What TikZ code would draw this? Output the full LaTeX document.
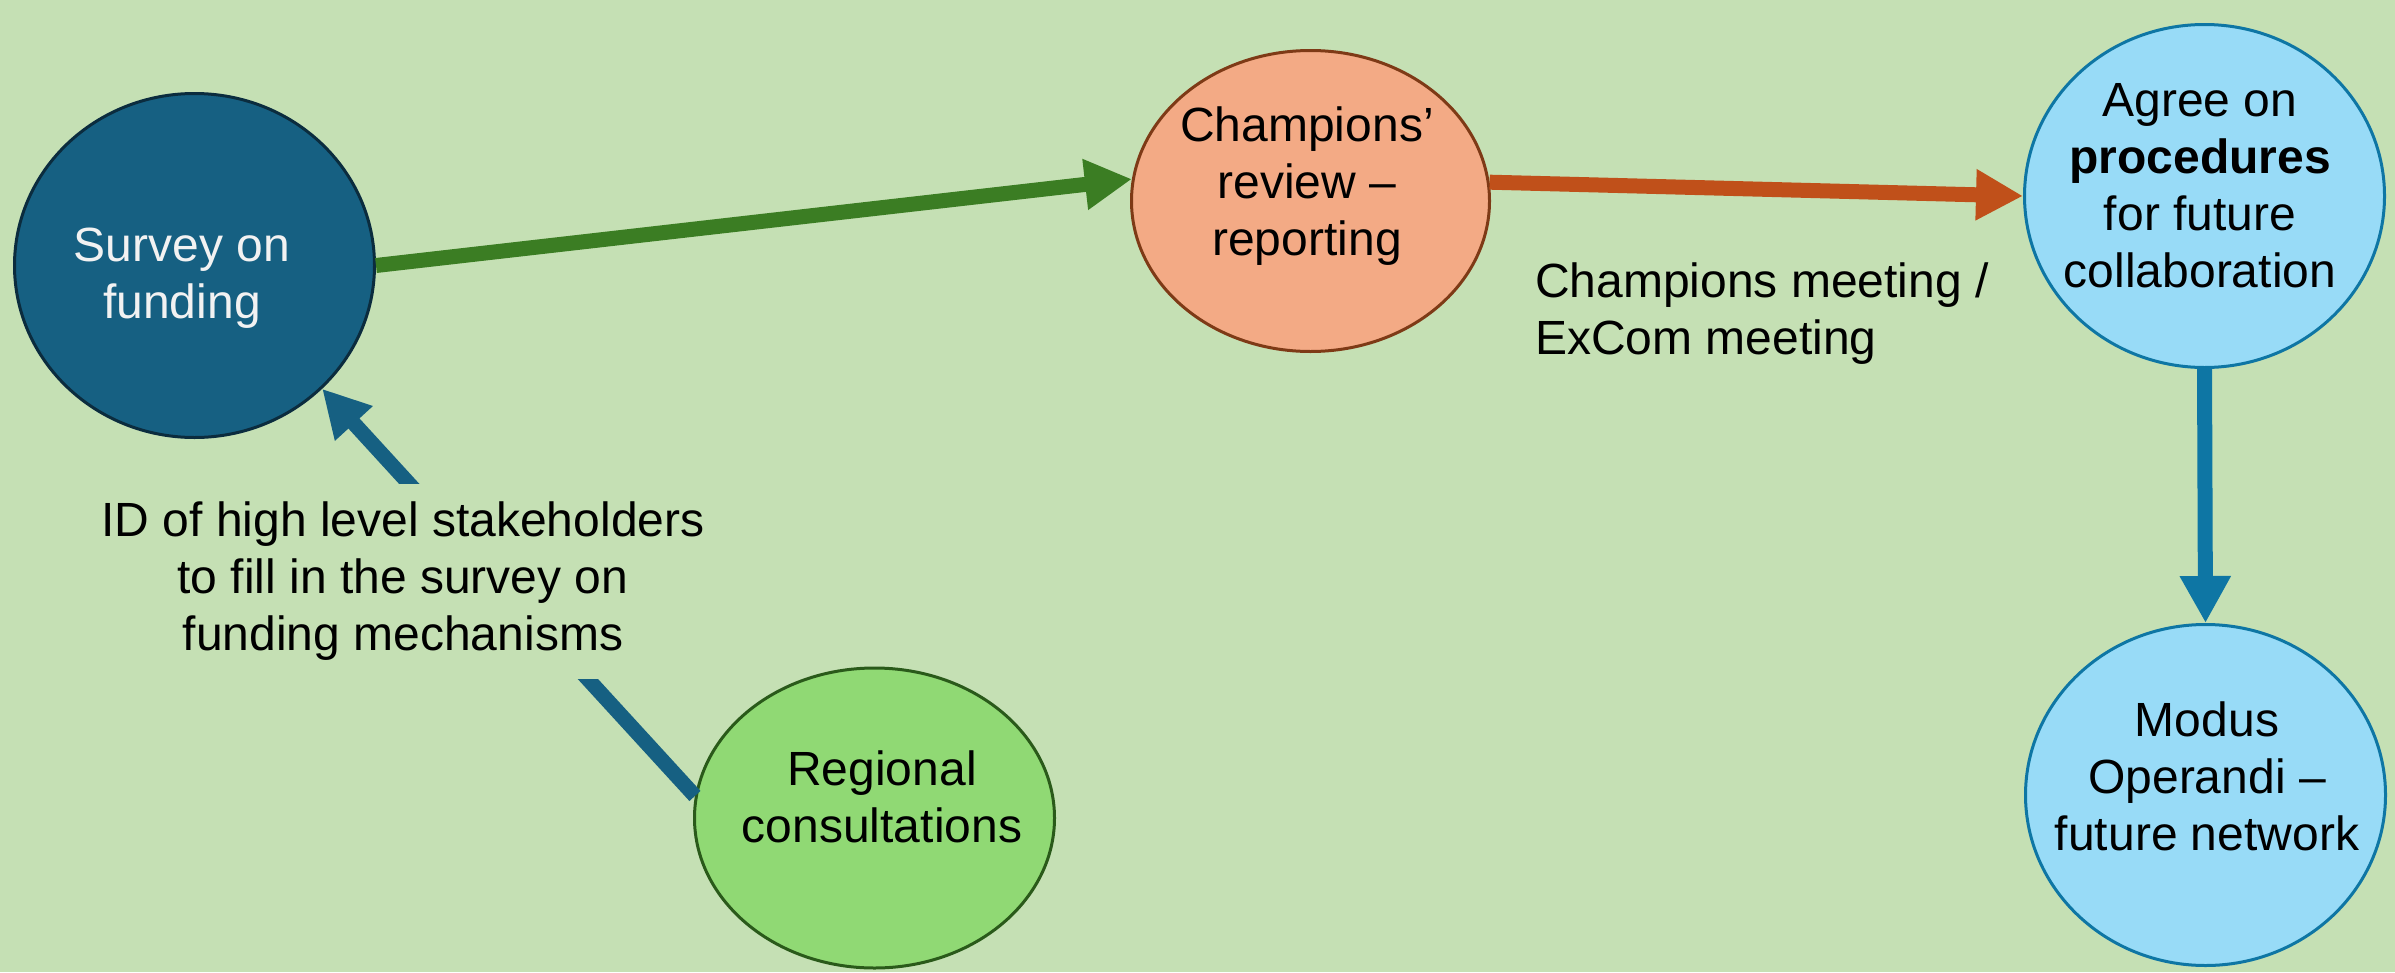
\documentclass[tikz,border=0pt]{standalone}
\usepackage{fontspec}
\setmainfont{Liberation Sans}
\usetikzlibrary{arrows.meta,shapes.geometric}
\definecolor{bg}{HTML}{C5E0B4}
\definecolor{svfill}{HTML}{166082}
\definecolor{svline}{HTML}{0B2C3E}
\definecolor{svtext}{HTML}{F2F2F2}
\definecolor{chfill}{HTML}{F3AA85}
\definecolor{chline}{HTML}{7E3A16}
\definecolor{bluefill}{HTML}{98DBF7}
\definecolor{blueline}{HTML}{0E76A4}
\definecolor{regfill}{HTML}{90D974}
\definecolor{regline}{HTML}{2A5A1A}
\definecolor{greenarr}{HTML}{3B7D23}
\definecolor{orangearr}{HTML}{C0501A}
\definecolor{diagarr}{HTML}{166082}
\begin{document}
\begin{tikzpicture}[x=1pt,y=-1pt,
  bubble/.style={ellipse,draw,line width=3pt,inner sep=0pt},
  txt/.style={align=center,inner sep=0pt,font=\fontsize{48}{57}\selectfont},
  conn/.style={line width=15pt,-{Triangle[length=47pt,width=48pt]}}]
\fill[bg] (0,0) rectangle (2395,972);
\useasboundingbox (0,0) rectangle (2395,972);
% bubbles
\node[bubble,fill=svfill,draw=svline,minimum width=360pt,minimum height=344pt] (sv) at (194.5,265.5) {};
\node[bubble,fill=chfill,draw=chline,minimum width=358pt,minimum height=301pt] (ch) at (1310.5,201) {};
\node[bubble,fill=bluefill,draw=blueline,minimum width=360pt,minimum height=343pt] (ag) at (2204.5,196) {};
\node[bubble,fill=bluefill,draw=blueline,minimum width=360pt,minimum height=341pt] (mo) at (2205.5,795) {};
\node[bubble,fill=regfill,draw=regline,minimum width=360pt,minimum height=300pt] (reg) at (874.5,818) {};
% texts
\node[txt,text=svtext] (svt) at (182,278) {Survey on\\funding};
\node[txt] (cht) at (1307,186.5) {Champions’\\review –\\reporting};
\node[txt] (agt) at (2200,185.6) {Agree on\\\textbf{procedures}\\for future\\collaboration};
\node[txt] (mot) at (2207,776.5) {Modus\\Operandi –\\future network};
\node[txt] (ret) at (882,797) {Regional\\consultations};
% connectors
\draw[conn,draw=greenarr,fill=greenarr] (sv.0) -- (ch.173);
\draw[conn,draw=orangearr,fill=orangearr] (ch.6) -- (ag.180);
\draw[conn,draw=blueline,fill=blueline] (ag.south) -- (mo.north);
\draw[conn,draw=diagarr,fill=diagarr] (reg.173) -- (sv.-44);
% labels
\node[txt,fill=bg,inner xsep=10pt,inner ysep=18pt] (idl) at (403,581.5) {ID of high level stakeholders\\to fill in the survey on\\funding mechanisms};
\node[txt,align=left,anchor=west] (cml) at (1535,314) {Champions meeting /\\ExCom meeting};
\end{tikzpicture}
\end{document}
